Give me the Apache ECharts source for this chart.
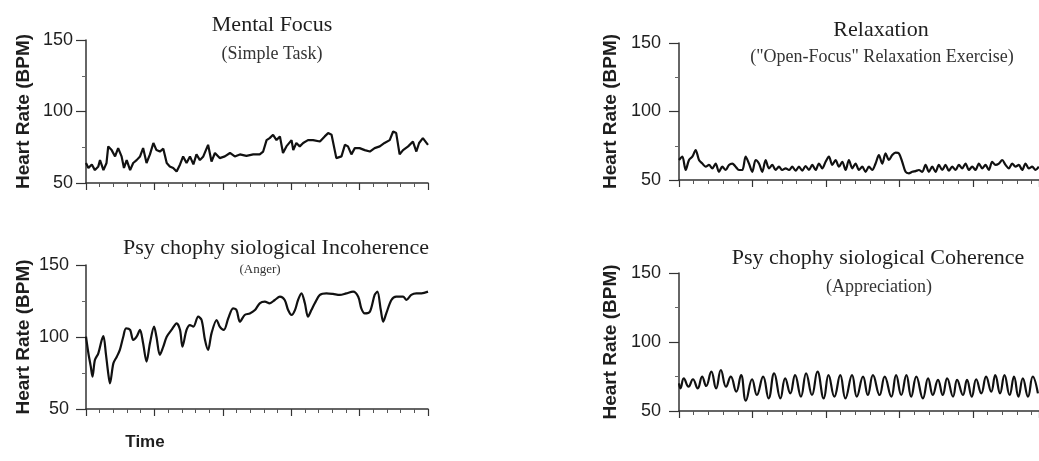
<!DOCTYPE html>
<html>
<head>
<meta charset="utf-8">
<script src="https://cdn.jsdelivr.net/npm/echarts@6/dist/echarts.min.js"></script>
<style>
  html, body { margin: 0; padding: 0; background: #fff; }
  #chart { width: 1039px; height: 461px; }
</style>
</head>
<body>
<div id="chart"></div>
<script>
// Mental focus (simple task)
const focusTime = [0,0.7,1.7,2.6,3.6,4.1,5.1,6.0,6.5,7.5,8.5,9.4,10.4,11.1,11.9,12.9,13.8,14.8,15.8,16.7,17.7,18.7,19.7,20.6,21.6,22.6,23.6,24.5,25.5,26.5,27.5,28.4,29.4,30.4,31.4,32.3,33.3,34.3,35.7,36.7,37.7,39.1,40.6,42.1,43.5,45,46.9,48.9,50.8,51.8,52.8,53.7,54.7,55.7,56.7,57.6,58.6,60.1,60.6,61.5,62.5,63.5,64.9,66.4,68.4,69.8,70.8,71.8,73.2,74.7,75.7,76.6,77.6,78.6,80,81.5,83,84.4,85.9,87.3,88.8,89.8,90.7,91.7,92.7,94.2,95.6,96.6,97.4,98.5,100];
const focusBpm = [64,60.5,63,59,61.6,66,59,64,75.6,73,68.6,74.4,68.6,60.5,66,59,64,66,68.6,74.4,64,70,78,73,72,74,64,61.6,60.5,58,63,68.6,64,68.6,63,70,66,68.6,76.7,65,71,67.4,68.6,71,68.6,70,69,70,70,72,80,81.4,83.7,80,82.6,71,75.6,80,73,78,75.6,78,80,80,79,82.6,84.9,83.7,67.4,68.6,76.7,75.6,70,74.4,74.4,73,72,74.4,75.6,78,80,86,84.9,70,73,75.6,79,72,78,81.4,76.7];

// Relaxation, sampled every relaxStep time units
const relaxStep = 0.907;
const relaxBpm = [64.6,67,57.3,64.6,67,71.8,64.6,62,59.7,61,58.5,62,56,59.7,57.3,61,62,59.7,57.3,57.3,67,62,56,64.6,62,56,64.6,58.5,61,57.3,59.7,57.3,58.5,57.3,59.7,56.8,59.7,56.8,60.2,57.3,61,57.3,62,58.5,63.3,67,61,64.6,59.7,63.3,57.3,64.6,58.5,62,57.3,59.7,56,59.7,57.3,62,68.2,62,69.4,64.6,68.2,70,69.4,63.3,56,54.9,56,56.5,57.3,56,61,56,59.7,56,61,57.3,61,56.8,59.7,57.3,61,58.5,62,57.3,59.7,57.3,62,58.5,61,57.3,63.3,61,62,64.6,61,58.5,62,59.7,61,57.3,62,58.5,59.7,57.3,59.7];

// Incoherence (anger)
const angerTime = [0,0.7,1.4,1.9,2.6,3.6,4.6,5.1,5.8,6.5,7,8,9,9.9,10.9,11.7,12.9,13.8,14.8,15.8,16.7,17.7,18.7,19.9,20.6,21.6,22.6,23.6,25,26.5,27.5,28.2,29.4,30.4,31.4,32.8,33.8,34.8,35.7,36.7,38.2,39.1,40.3,41.6,43,44,45,46.4,47.9,49.4,50.8,52.3,53.7,55.2,56.7,58.1,59.1,60.1,61.1,62,63,64,64.9,65.9,66.9,68.4,70.3,72.2,74.2,76.1,78.1,79.6,80.5,81.5,83,84.4,85.2,86.2,86.9,87.8,89.3,90.7,92.7,93.7,95.1,96.6,98.1,100];
const angerBpm = [100.2,88.7,79.4,72.5,84,88.7,97.9,100.7,88.7,74.8,67.8,81.7,86.3,91,100.2,106,104.9,97.9,100.2,104.9,95.6,82.9,95.6,107.2,100.2,87.5,93.3,100.2,104.9,109.5,104.9,93.3,104.9,108.3,107.2,114.1,111.8,97.9,91,102.5,111.8,107.2,104.9,113,119.9,118.7,110.6,115.3,116.4,118.7,123.4,124.5,123.4,125.7,128,125.7,118.7,115.3,118.7,125.7,130.3,123.4,114.1,118.7,123.4,129.2,130.3,129.9,129.2,130.3,131.5,128,119.9,116.4,117.6,129.2,131.5,118.7,110.6,116.4,125.7,128,128,125.7,129.2,130.3,130.3,131.5];

// Coherence (appreciation), peaks and troughs
const appTime = [0,0.4,1.3,2.6,3.8,5.1,6.3,7.4,8.8,10.1,11.4,12.8,14.1,15.6,16.9,18.2,19.9,21.2,22.9,24.4,25.9,27.6,28.9,30.3,31.6,33.2,34.6,36.2,37.7,39.4,40.7,42.3,43.9,45.3,47.1,48.4,50.1,51.4,52.8,54.6,56,57.8,59.1,60.5,61.9,63.2,64.6,66.4,67.8,69.1,70.5,71.8,73,74.6,75.7,77.3,78.4,79.7,80.9,82.3,83.6,85,86.1,87.4,88.6,90,91.2,92.4,93.6,95,96.3,97.7];
const appBpm = [70,66.4,73.7,67.6,73,66.4,74.9,68.1,78.5,66.4,79.7,67.6,74.9,64,76,57.5,73,61.6,74.9,59.2,77.3,59.2,73.7,62.8,76,60.4,77.3,61.6,78.5,59.2,76,60.4,76,59.2,76,60.4,74.9,61.6,76,61.6,74.9,60.4,76,61.6,76,60.4,74.9,59.2,73.7,61.6,72.6,61.6,73.7,60.4,72.6,61.6,72.6,60.4,73,62.8,74.9,64,76,62.8,76,61.6,74.9,60.4,73.7,60.4,74.9,62.8];

const yTicks = [50, 100, 150];
const yName = 'Heart Rate (BPM)';

const titles = [
  { text: 'Mental Focus', sub: '(Simple Task)', x: 272, y: 25, sx: 272, sy: 54, subSize: 18 },
  { text: 'Relaxation', sub: '("Open-Focus" Relaxation Exercise)', x: 881, y: 30, sx: 882, sy: 57, subSize: 18 },
  { text: 'Psy chophy siological Incoherence', sub: '(Anger)', x: 276, y: 248, sx: 260, sy: 270, subSize: 13 },
  { text: 'Psy chophy siological Coherence', sub: '(Appreciation)', x: 878, y: 258, sx: 879, sy: 287, subSize: 18 }
];

// grid boxes in pixels
const grids = [
  { left: 86, top: 40, width: 342, height: 143 },
  { left: 679, top: 43, width: 360, height: 137 },
  { left: 86, top: 265, width: 342, height: 144 },
  { left: 679, top: 273, width: 360, height: 138 }
];
const xMax = [100, 98, 100, 98];
const labelMargin = [13, 18, 17, 18];
const nameGap = [53, 59, 53, 59];

const serif = '"Liberation Serif", "DejaVu Serif", serif';
const sans = '"Liberation Sans", Arial, sans-serif';
const ink = '#1e1e1e';

function pairs(xs, ys) {
  return ys.map((v, i) => [xs[i], v]);
}
const relaxData = relaxBpm.map((v, i) => [i * relaxStep, v]);

const seriesData = [
  { data: pairs(focusTime, focusBpm), smooth: false },
  { data: relaxData, smooth: 0.3 },
  { data: pairs(angerTime, angerBpm), smooth: 0.3 },
  { data: pairs(appTime, appBpm), smooth: 0.45 }
];

const titleList = [];
titles.forEach((t) => {
  titleList.push({
    text: t.text, left: t.x, top: t.y, textAlign: 'center', textVerticalAlign: 'middle', padding: 0,
    textStyle: { fontFamily: serif, fontSize: 22, fontWeight: 'normal', color: ink }
  });
  titleList.push({
    text: t.sub, left: t.sx, top: t.sy, textAlign: 'center', textVerticalAlign: 'middle', padding: 0,
    textStyle: { fontFamily: serif, fontSize: t.subSize, fontWeight: 'normal', color: '#333' }
  });
});
titleList.push({
  text: 'Time', left: 145, top: 442, textAlign: 'center', textVerticalAlign: 'middle', padding: 0,
  textStyle: { fontFamily: sans, fontSize: 17, fontWeight: 'bold', color: ink }
});

const option = {
  animation: false,
  backgroundColor: '#fff',
  title: titleList,
  grid: grids,
  xAxis: grids.map((g, i) => ({
    type: 'value',
    gridIndex: i,
    min: 0,
    max: xMax[i],
    interval: 20,
    axisLine: { show: true, lineStyle: { color: '#333', width: 1.5 } },
    axisTick: { show: true, length: 7, lineStyle: { color: '#333', width: 1.2 } },
    minorTick: { show: true, splitNumber: 5, length: 4, lineStyle: { color: '#555', width: 1 } },
    axisLabel: { show: false },
    splitLine: { show: false }
  })),
  yAxis: grids.map((g, i) => ({
    type: 'value',
    gridIndex: i,
    min: yTicks[0],
    max: yTicks[yTicks.length - 1],
    interval: 50,
    name: yName,
    nameLocation: 'middle',
    nameGap: nameGap[i],
    nameTextStyle: { fontFamily: sans, fontSize: 19, fontWeight: 'bold', color: ink },
    axisLine: { show: true, lineStyle: { color: '#333', width: 1.5 } },
    axisTick: { show: true, length: 10, lineStyle: { color: '#333', width: 1.2 } },
    minorTick: { show: true, splitNumber: 2, length: 4, lineStyle: { color: '#666', width: 1 } },
    axisLabel: { fontFamily: sans, fontSize: 18, color: ink, margin: labelMargin[i] },
    splitLine: { show: false }
  })),
  series: seriesData.map((s, i) => ({
    type: 'line',
    xAxisIndex: i,
    yAxisIndex: i,
    data: s.data,
    smooth: s.smooth,
    showSymbol: false,
    clip: true,
    lineStyle: { color: '#111', width: 2.2 }
  }))
};

const chart = echarts.init(document.getElementById('chart'));
chart.setOption(option);
</script>
</body>
</html>
